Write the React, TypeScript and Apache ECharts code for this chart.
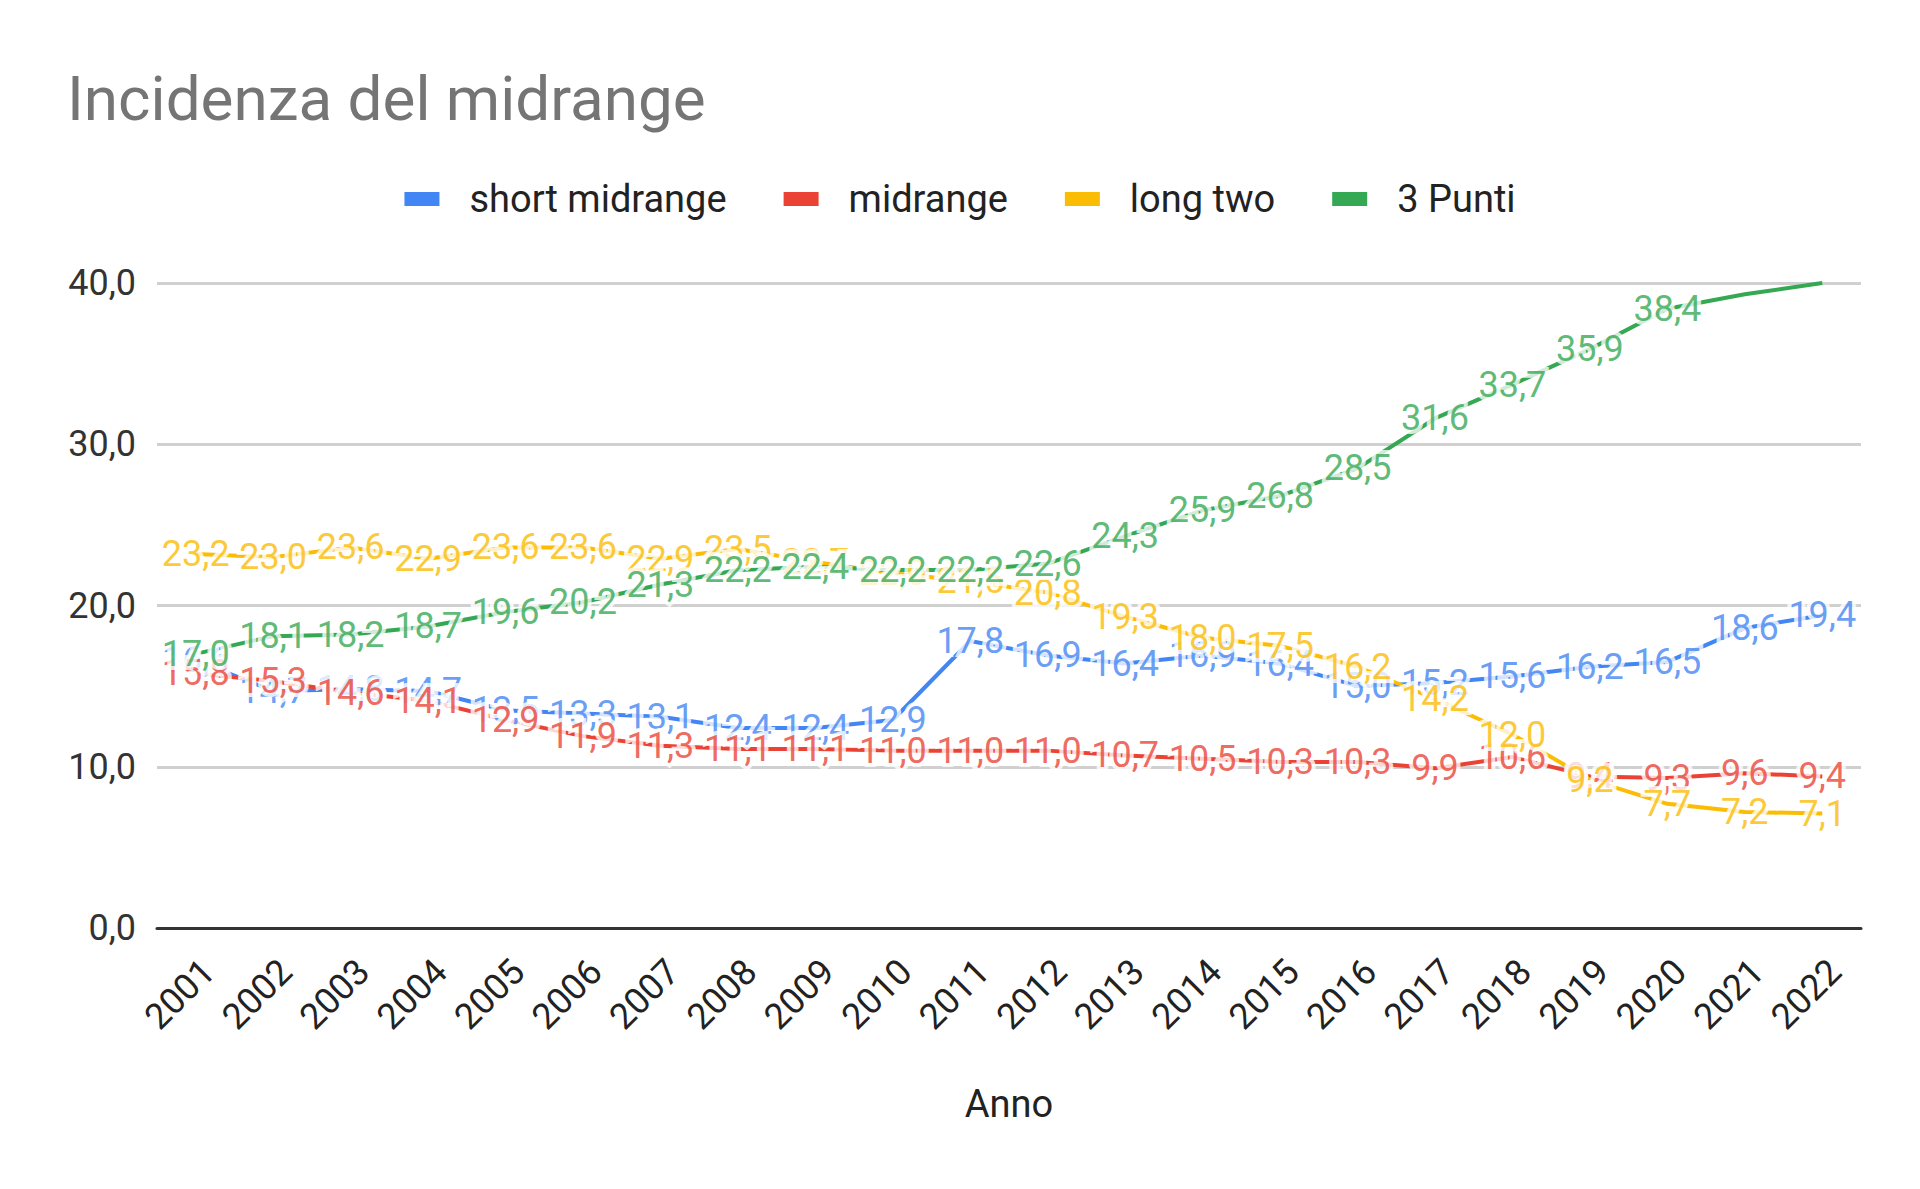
import React, { useEffect, useRef } from "react";
import * as echarts from "echarts";

const years = ["2001","2002","2003","2004","2005","2006","2007","2008","2009","2010","2011","2012","2013","2014","2015","2016","2017","2018","2019","2020","2021","2022"];
const shortMidrange = [16.6, 14.7, 14.8, 14.7, 13.5, 13.3, 13.1, 12.4, 12.4, 12.9, 17.8, 16.9, 16.4, 16.9, 16.4, 15.0, 15.2, 15.6, 16.2, 16.5, 18.6, 19.4];
const midrange = [15.8, 15.3, 14.6, 14.1, 12.9, 11.9, 11.3, 11.1, 11.1, 11.0, 11.0, 11.0, 10.7, 10.5, 10.3, 10.3, 9.9, 10.6, 9.4, 9.3, 9.6, 9.4];
const longTwo = [23.2, 23.0, 23.6, 22.9, 23.6, 23.6, 22.9, 23.5, 22.7, 22.0, 21.5, 20.8, 19.3, 18.0, 17.5, 16.2, 14.2, 12.0, 9.2, 7.7, 7.2, 7.1];
const trePunti = [17.0, 18.1, 18.2, 18.7, 19.6, 20.2, 21.3, 22.2, 22.4, 22.2, 22.2, 22.6, 24.3, 25.9, 26.8, 28.5, 31.6, 33.7, 35.9, 38.4, 39.3, 40.0];
const seriesNames = ["short midrange", "midrange", "long two", "3 Punti"];
const seriesColors = ["#4285F4", "#EA4335", "#FBBC04", "#34A853"];
const yTicks = { min: 0, max: 40, interval: 10 };

const fmt = (v: number) => v.toFixed(1).replace(".", ",");
const FONT = "Roboto";

export default function App() {
  const ref = useRef<HTMLDivElement>(null);
  useEffect(() => {
    if (!ref.current) return;
    const chart = echarts.init(ref.current, undefined, { renderer: "svg" });
    const allData = [shortMidrange, midrange, longTwo, trePunti];
    const lineSeries = allData.map((d, i) => ({
      type: "line",
      name: seriesNames[i],
      data: d,
      z: 2,
      symbol: "none",
      showSymbol: false,
      lineStyle: { width: 4, color: seriesColors[i] },
      itemStyle: { color: seriesColors[i] },
      emphasis: { disabled: true },
      label: { show: false },
    }));
    const labelSeries = allData.map((d, i) => ({
      type: "scatter",
      name: seriesNames[i] + " etichette",
      data: d.map((v) => ({ value: v, label: { show: v <= 39 } })),
      z: 5 + i,
      symbolSize: 1,
      itemStyle: { color: "rgba(0,0,0,0)" },
      emphasis: { disabled: true },
      silent: true,
      label: {
        show: true,
        position: "inside",
        formatter: (p: any) => fmt(p.value),
        color: seriesColors[i],
        fontSize: 36,
        fontFamily: FONT,
        textBorderColor: "#ffffff",
        textBorderWidth: 8,
      },
    }));
    chart.setOption({
      animation: false,
      backgroundColor: "#ffffff",
      title: {
        text: "Incidenza del midrange",
        left: 62,
        top: 62,
        textStyle: { fontSize: 62, fontWeight: "normal", color: "#757575", fontFamily: FONT },
      },
      legend: {
        data: seriesNames,
        left: "center",
        top: 175,
        icon: "rect",
        itemWidth: 35,
        itemHeight: 14,
        itemGap: 57,
        textStyle: { fontSize: 38, color: "#222222", fontFamily: FONT, padding: [0, 0, 0, 25] },
      },
      grid: { left: 157, right: 59, top: 283, bottom: 261, containLabel: false },
      xAxis: {
        type: "category",
        data: years,
        boundaryGap: true,
        name: "Anno",
        nameLocation: "middle",
        nameGap: 157,
        nameTextStyle: { fontSize: 38, color: "#222222", fontFamily: FONT },
        axisLine: { show: true, lineStyle: { color: "#333333", width: 3 } },
        axisTick: { show: false },
        axisLabel: { rotate: 45, interval: 0, margin: 25, verticalAlign: "top", fontSize: 36, color: "#222222", fontFamily: FONT },
      },
      yAxis: {
        type: "value",
        min: yTicks.min,
        max: yTicks.max,
        interval: yTicks.interval,
        axisLine: { show: false },
        axisTick: { show: false },
        splitLine: { lineStyle: { color: "#d0d0d0", width: 3 } },
        axisLabel: { formatter: (v: number) => fmt(v), margin: 21, fontSize: 36, color: "#333333", fontFamily: FONT },
      },
      series: [...lineSeries, ...labelSeries],
    });
    return () => chart.dispose();
  }, []);
  return <div ref={ref} style={{ position: "absolute", left: 0, top: 0, width: 1920, height: 1189 }} />;
}
